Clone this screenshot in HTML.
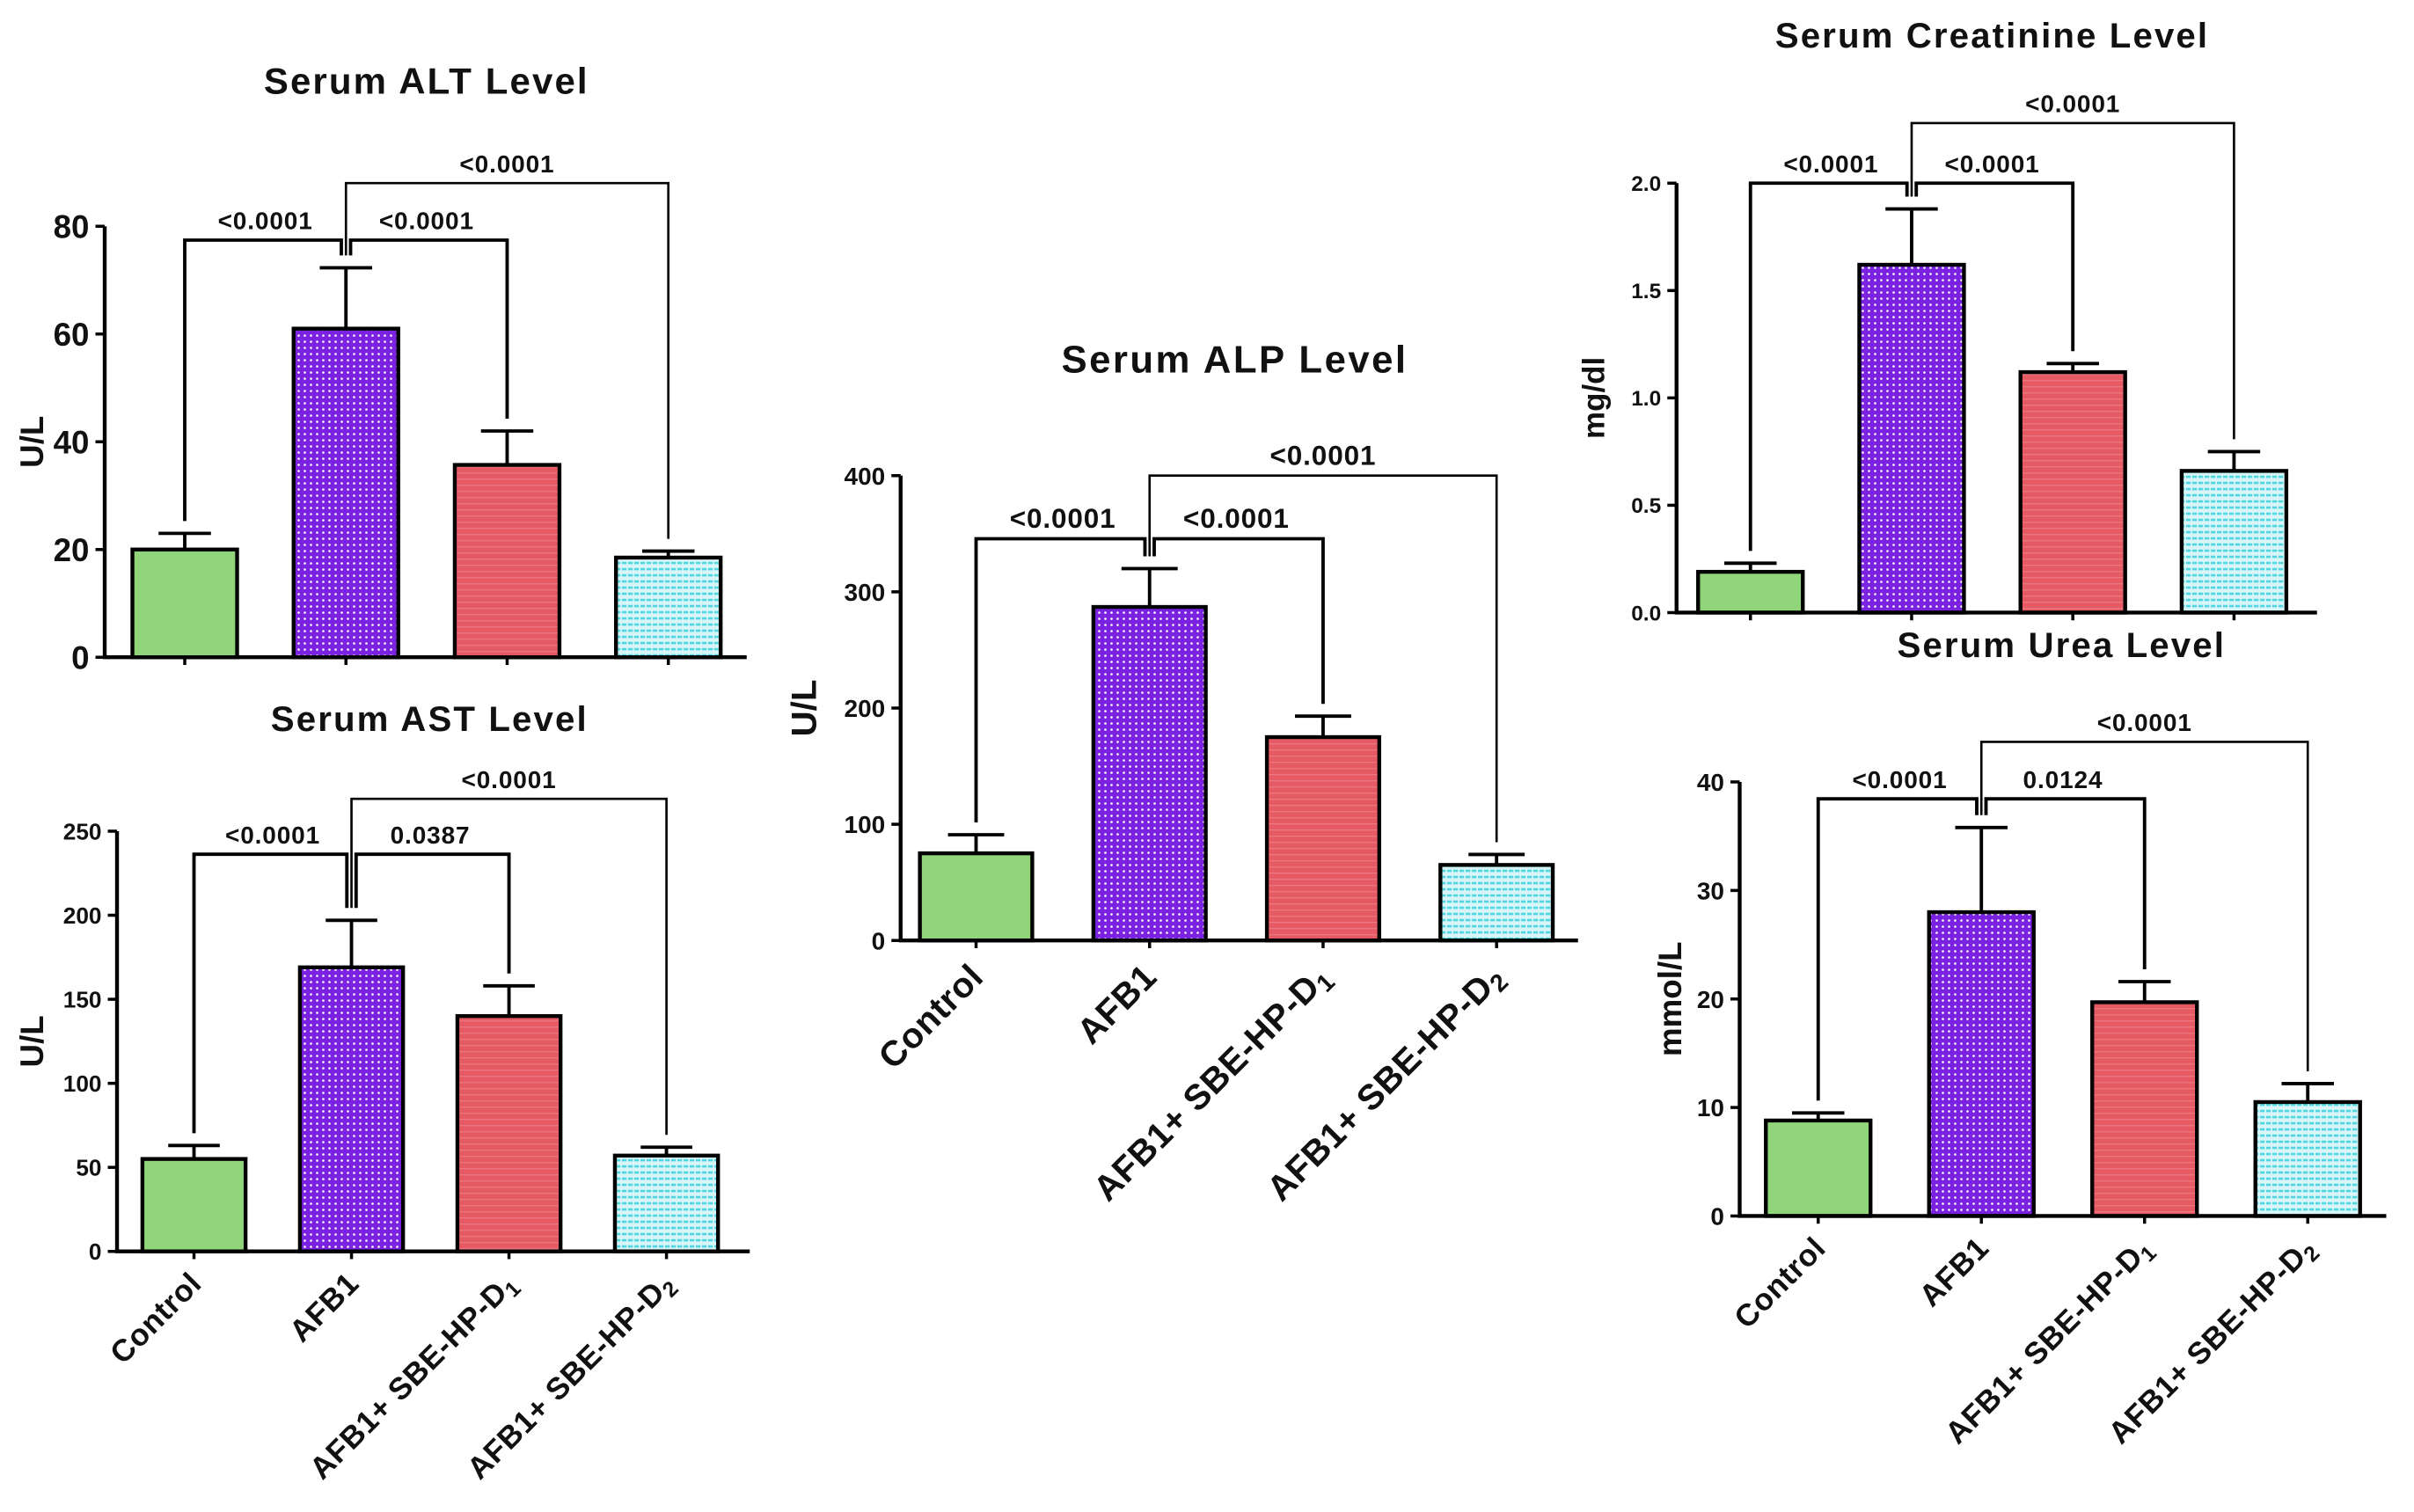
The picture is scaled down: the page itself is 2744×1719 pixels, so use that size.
<!DOCTYPE html>
<html><head><meta charset="utf-8"><style>
html,body{margin:0;padding:0;background:#fff;}
svg{display:block;font-family:"Liberation Sans",Arial,sans-serif;}
</style></head><body>
<svg id="fig" width="2744" height="1719" viewBox="0 0 1568 982.3" xmlns="http://www.w3.org/2000/svg">
<defs>
<pattern id="pPurple" width="4" height="4" patternUnits="userSpaceOnUse"><rect width="4" height="4" fill="#7a22e0"/><circle cx="2" cy="2" r="0.75" fill="#fff"/></pattern>
<pattern id="pRed" width="4" height="4" patternUnits="userSpaceOnUse"><rect width="4" height="4" fill="#e65a64"/><rect y="3" width="4" height="0.6" fill="#ee8088"/></pattern>
<pattern id="pCyan" width="4" height="4" patternUnits="userSpaceOnUse"><rect width="4" height="4" fill="#d8f6f8"/><rect y="1" width="3" height="1.5" fill="#4fd6e0"/></pattern>
</defs>
</svg>
<script>
const categories = ["Control","AFB1","AFB1+ SBE-HP-D1","AFB1+ SBE-HP-D2"];
const altValues = [20, 61, 35.7, 18.5];
const altErrors = [23, 72.3, 42, 19.7];
const altTicks = [0,20,40,60,80];
const astValues = [55, 169, 140, 57];
const astErrors = [63, 197, 158, 62];
const astTicks = [0,50,100,150,200,250];
const alpValues = [75, 287, 175, 65];
const alpErrors = [91, 320, 193, 74];
const alpTicks = [0,100,200,300,400];
const creValues = [0.19, 1.62, 1.12, 0.66];
const creErrors = [0.23, 1.88, 1.16, 0.75];
const creTicks = ["0.0","0.5","1.0","1.5","2.0"];
const ureaValues = [8.8, 28, 19.7, 10.5];
const ureaErrors = [9.5, 35.8, 21.6, 12.2];
const ureaTicks = [0,10,20,30,40];
const altP = ["<0.0001","<0.0001","<0.0001"];
const astP = ["<0.0001","0.0387","<0.0001"];
const alpP = ["<0.0001","<0.0001","<0.0001"];
const creP = ["<0.0001","<0.0001","<0.0001"];
const ureaP = ["<0.0001","0.0124","<0.0001"];

const NS="http://www.w3.org/2000/svg";
const svg=document.getElementById('fig');
const fills=["#90d57a","url(#pPurple)","url(#pRed)","url(#pCyan)"];
function el(tag,attrs,parent){const e=document.createElementNS(NS,tag);for(const k in attrs)e.setAttribute(k,attrs[k]);(parent||svg).appendChild(e);return e;}

function chart(cfg){
  const g=el('g',{});
  
  
  const max=parseFloat(cfg.ticks[cfg.ticks.length-1]);
  const y=v=>cfg.y0-(v/max)*(cfg.y0-cfg.yTop);
  const x=i=>cfg.c0+i*cfg.step;
  const t=el('text',{x:cfg.tx,y:cfg.ty,'text-anchor':'middle','font-size':cfg.tf,'font-weight':'bold','letter-spacing':cfg.tls,fill:'#111'},g);
  t.textContent=cfg.title;
  
  
  const yl=el('text',{x:0,y:0,transform:`translate(${cfg.ylx},${(cfg.y0+cfg.yTop)/2}) rotate(-90)`,'text-anchor':'middle','font-size':cfg.ylf,'font-weight':'bold',fill:'#111'},g);
  yl.textContent=cfg.ylabel;
  
  
  cfg.values.forEach((v,i)=>{
    const cx=x(i),hw=cfg.bw/2;
    const r=el('rect',{x:cx-hw,y:y(v),width:cfg.bw,height:cfg.y0-y(v),fill:fills[i],stroke:'#000','stroke-width':2.5},g);
    
    
    const e=cfg.errors[i];
    const ep=el('path',{d:`M${cx},${y(v)}V${y(e)}M${cx-cfg.bw/4},${y(e)}H${cx+cfg.bw/4}`,stroke:'#000','stroke-width':2.2,fill:'none'},g);
    
    
  });
  const ax=el('path',{d:`M${cfg.ax},${cfg.yTop}V${cfg.y0}H${cfg.axEnd}`,stroke:'#000','stroke-width':2.5,fill:'none'},g);
  
  
  cfg.ticks.forEach(tk=>{
    const yy=y(parseFloat(tk));
    el('line',{x1:cfg.ax-6,x2:cfg.ax,y1:yy,y2:yy,stroke:'#000','stroke-width':2},g);
    const tl=el('text',{x:cfg.ax-10,y:yy+cfg.tkf*0.36,'text-anchor':'end','font-size':cfg.tkf,'font-weight':'bold',fill:'#111'},g);
    tl.textContent=tk;
    
    
  });
  categories.forEach((c,i)=>{
    const cx=x(i);
    el('line',{x1:cx,x2:cx,y1:cfg.y0,y2:cfg.y0+5,stroke:'#000','stroke-width':2},g);
    if(!cfg.xlabels)return;
    const lt=el('text',{x:0,y:0,transform:`translate(${cx+6},${cfg.y0+cfg.xf+2}) rotate(-45)`,'text-anchor':'end','font-size':cfg.xf,'font-weight':'bold','letter-spacing':0.4,fill:'#111'},g);
    
    
    const m=c.match(/^(.*D)(\d)$/);
    if(m){lt.appendChild(document.createTextNode(m[1]));const s=el('tspan',{'font-size':cfg.xf*0.7,dy:4},lt);s.textContent=m[2];}
    else lt.textContent=c;
  });
  const br=[[0,1,cfg.b1],[1,2,cfg.b1],[1,3,cfg.b2]];
  br.forEach((b,k)=>{
    const [a,c,by]=b;
    const ya=y(cfg.errors[a])-8,yc=y(cfg.errors[c])-8;
    const xs=k===1?x(a)+3:x(a);
    const xe=k===0?x(c)-3:x(c);
    const p=el('path',{d:`M${xs},${ya}V${by}H${xe}V${yc}`,stroke:'#000','stroke-width':k===2?1.5:2.2,fill:'none'},g);
    
    
    const pl=el('text',{x:(x(a)+x(c))/2,y:by-7,'text-anchor':'middle','font-size':cfg.pf,'font-weight':'bold','letter-spacing':0.5,fill:'#111'},g);
    pl.textContent=cfg.p[k];
    
    
  });
}

chart({name:'alt',title:'Serum ALT Level',tx:277,ty:61,tf:24,tls:1.2,ylabel:'U/L',ylx:28,ylf:21,values:altValues,errors:altErrors,ticks:altTicks,
  y0:427,yTop:147,ax:68,axEnd:485,c0:120,step:104.7,bw:68,tkf:21,xlabels:false,xf:17,b1:156,b2:119,p:altP,pf:16});
chart({name:'ast',title:'Serum AST Level',tx:279,ty:475,tf:23,tls:1.2,ylabel:'U/L',ylx:28,ylf:21,values:astValues,errors:astErrors,ticks:astTicks,
  y0:813,yTop:540,ax:76,axEnd:487,c0:126,step:102.3,bw:67,tkf:15,xlabels:true,xf:20,b1:555,b2:519,p:astP,pf:16});
chart({name:'alp',title:'Serum ALP Level',tx:802,ty:242,tf:25,tls:1.4,ylabel:'U/L',ylx:530,ylf:23,values:alpValues,errors:alpErrors,ticks:alpTicks,
  y0:611,yTop:309,ax:585,axEnd:1025,c0:634,step:112.7,bw:73,tkf:16,xlabels:true,xf:23,b1:350,b2:309,p:alpP,pf:18});
chart({name:'creatinine',title:'Serum Creatinine Level',tx:1294,ty:31,tf:23,tls:1.2,ylabel:'mg/dl',ylx:1042,ylf:20,values:creValues,errors:creErrors,ticks:creTicks,
  y0:398,yTop:119,ax:1089,axEnd:1505,c0:1137,step:104.7,bw:68,tkf:14,xlabels:false,xf:17,b1:119,b2:80,p:creP,pf:16});
chart({name:'urea',title:'Serum Urea Level',tx:1339,ty:427,tf:23,tls:1.2,ylabel:'mmol/L',ylx:1092,ylf:21,values:ureaValues,errors:ureaErrors,ticks:ureaTicks,
  y0:790,yTop:508,ax:1130,axEnd:1550,c0:1181,step:106,bw:68,tkf:16,xlabels:true,xf:20,b1:519,b2:482,p:ureaP,pf:16});
</script>
</body></html>
